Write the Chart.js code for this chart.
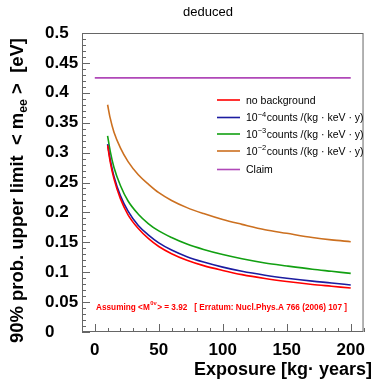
<!DOCTYPE html>
<html><head><meta charset="utf-8">
<script src="https://cdn.jsdelivr.net/npm/chart.js@4.4.0/dist/chart.umd.min.js"></script>
<style>html,body{margin:0;padding:0;background:#fff}#wrap{width:373px;height:380px}</style>
</head><body><div id="wrap"><canvas id="c" width="373" height="380"></canvas></div>
<script>
const exposure = [10,12,15,20,26,34,42,50,60,72,85,100,115,133,150,170,185,200];
const noBackground = [0.312,0.285,0.256,0.223,0.196,0.173,0.156,0.143,0.131,0.120,0.111,0.103,0.096,0.0895,0.0845,0.0795,0.0765,0.0735];
const bkg1e4 = [0.314,0.289,0.260,0.228,0.202,0.178,0.162,0.149,0.137,0.126,0.117,0.1085,0.1015,0.0950,0.0900,0.0850,0.0820,0.0786];
const bkg1e3 = [0.328,0.303,0.275,0.245,0.219,0.197,0.181,0.169,0.158,0.147,0.138,0.1295,0.1225,0.1155,0.1105,0.1050,0.1015,0.0980];
const bkg1e2 = [0.380,0.358,0.334,0.308,0.285,0.263,0.247,0.233,0.220,0.208,0.198,0.188,0.180,0.171,0.165,0.158,0.154,0.151];
const claimX = [0,200];
const claimY = [0.425,0.425];
const xTicks = [0,50,100,150,200];
const seriesNames = ['no background','10^{−4}counts /(kg · keV · y)','10^{−3}counts /(kg · keV · y)','10^{−2}counts /(kg · keV · y)','Claim'];
const colors = ['#ff0000','#1c1ca0','#12a012','#cc7020','#b048b8'];
const xTitle = 'Exposure [kg· years]';

const pts = (xs, ys) => xs.map((x,i)=>({x, y: ys[i]}));
const FONT = "'Liberation Sans', Arial, sans-serif";

const rootPlugin = {
  id: 'root',
  afterDraw(chart) {
    const ctx = chart.ctx;
    const {left, right, top, bottom} = chart.chartArea;
    const xs = chart.scales.x, ys = chart.scales.y;
    ctx.save();
    ctx.strokeStyle = '#666';
    ctx.lineWidth = 1;
    ctx.strokeRect(left + 0.5, top + 0.5, right - left - 1, bottom - top - 1);
    ctx.beginPath();
    for (let i = 0; i <= 50; i++) {
      const v = i * 0.01;
      const y = Math.round(ys.getPixelForValue(v)) + 0.5;
      const len = (i % 5 === 0) ? 8 : 4;
      ctx.moveTo(left, y); ctx.lineTo(left + len, y);
    }
    for (let v = -10; v <= 210; v += 10) {
      const x = Math.round(xs.getPixelForValue(v)) + 0.5;
      const len = (v % 50 === 0) ? 8 : 4;
      ctx.moveTo(x, bottom); ctx.lineTo(x, bottom - len);
    }
    ctx.stroke();

    // legend
    const lx0 = 217, lx1 = 240, tx = 246;
    const rows = [100, 117.5, 134, 151, 169.5];
    ctx.textBaseline = 'middle';
    seriesNames.forEach((name, i) => {
      ctx.strokeStyle = colors[i];
      ctx.lineWidth = 1.6;
      ctx.beginPath(); ctx.moveTo(lx0, rows[i]); ctx.lineTo(lx1, rows[i]); ctx.stroke();
      ctx.fillStyle = '#000';
      ctx.textAlign = 'left';
      const m = name.match(/^(.*?)\^\{(.*?)\}(.*)$/);
      if (m) {
        ctx.font = `10.5px ${FONT}`;
        ctx.fillText(m[1], tx, rows[i] + 1);
        let x = tx + ctx.measureText(m[1]).width;
        ctx.font = `7.5px ${FONT}`;
        ctx.fillText(m[2], x, rows[i] - 3);
        x += ctx.measureText(m[2]).width + 0.5;
        ctx.font = `10.5px ${FONT}`;
        ctx.fillText(m[3], x, rows[i] + 1);
      } else {
        ctx.font = `10.5px ${FONT}`;
        ctx.fillText(name, tx, rows[i] + 1);
      }
    });

    // annotation
    const a1 = 'Assuming <M', aSup = '0ν', a2 = '> = 3.92   [ Erratum: Nucl.Phys.A 766 (2006) 107 ]';
    ctx.font = `bold 8.5px ${FONT}`;
    const w1 = ctx.measureText(a1).width, w2 = ctx.measureText(a2).width;
    ctx.font = `bold 6px ${FONT}`;
    const ws = ctx.measureText(aSup).width;
    const total = w1 + ws + 1 + w2;
    const sc = 251 / total;
    ctx.save();
    ctx.translate(96, 310);
    ctx.scale(sc, 1);
    ctx.fillStyle = '#ff0000';
    ctx.textBaseline = 'alphabetic';
    ctx.font = `bold 8.5px ${FONT}`;
    ctx.fillText(a1, 0, 0);
    ctx.font = `bold 6px ${FONT}`;
    ctx.fillText(aSup, w1 + 0.5, -5);
    ctx.font = `bold 8.5px ${FONT}`;
    ctx.fillText(a2, w1 + ws + 1, 0);
    ctx.restore();

    // x title
    ctx.fillStyle = '#000';
    ctx.font = `bold 18px ${FONT}`;
    ctx.textAlign = 'right';
    ctx.textBaseline = 'alphabetic';
    ctx.fillText(xTitle, 372, 375);

    // y title
    const t1 = '90% prob. upper limit  < m', tSub = 'ee', t2 = ' >  [eV]';
    const fs = 18, fsub = 12;
    ctx.textAlign = 'left';
    ctx.font = `bold ${fs}px ${FONT}`;
    let u1 = ctx.measureText(t1).width, u2 = ctx.measureText(t2).width;
    ctx.font = `bold ${fsub}px ${FONT}`;
    let us = ctx.measureText(tSub).width;
    const tot = u1 + us + u2;
    const scy = 305 / tot;
    ctx.save();
    ctx.translate(23, 38 + 305);
    ctx.rotate(-Math.PI / 2);
    ctx.scale(scy, 1);
    ctx.fillStyle = '#000';
    ctx.textBaseline = 'alphabetic';
    ctx.font = `bold ${fs}px ${FONT}`;
    ctx.fillText(t1, 0, 0);
    ctx.font = `bold ${fsub}px ${FONT}`;
    ctx.fillText(tSub, u1, 4);
    ctx.font = `bold ${fs}px ${FONT}`;
    ctx.fillText(t2, u1 + us, 0);
    ctx.restore();

    ctx.restore();
  }
};

const mk = (label, xs, ys, color) => ({
  label, data: pts(xs, ys), borderColor: color, backgroundColor: color,
  borderWidth: 1.6, pointRadius: 0, showLine: true, fill: false,
  cubicInterpolationMode: 'monotone'
});

new Chart(document.getElementById('c'), {
  type: 'scatter',
  data: {
    datasets: [
      mk(seriesNames[0], exposure, noBackground, colors[0]),
      mk(seriesNames[1], exposure, bkg1e4, colors[1]),
      mk(seriesNames[2], exposure, bkg1e3, colors[2]),
      mk(seriesNames[3], exposure, bkg1e2, colors[3]),
      mk(seriesNames[4], claimX, claimY, colors[4])
    ]
  },
  options: {
    responsive: false,
    animation: false,
    devicePixelRatio: 1,
    layout: { padding: { left: 45, right: 2, top: 0, bottom: 0 } },
    plugins: {
      legend: { display: false },
      tooltip: { enabled: false },
      title: {
        display: true, text: 'deduced', color: '#000',
        font: { family: FONT, size: 13, weight: 'normal' },
        padding: { top: 5, bottom: 12.4 }
      }
    },
    scales: {
      x: {
        type: 'linear', min: -10, max: 210,
        afterBuildTicks: (s) => { s.ticks = xTicks.map(v => ({ value: v })); },
        afterFit: (s) => { s.height = 48; },
        grid: { display: false, drawTicks: false }, border: { display: false },
        ticks: { color: '#000', font: { family: FONT, size: 17, weight: 'bold' }, padding: 8, maxRotation: 0 },
        title: { display: false }
      },
      y: {
        min: 0, max: 0.5,
        afterFit: (s) => { s.width = 37; },
        grid: { display: false, drawTicks: false }, border: { display: false },
        ticks: { stepSize: 0.05, color: '#000', crossAlign: 'far',
                 font: { family: FONT, size: 17, weight: 'bold' },
                 callback: (v) => String(+Number(v).toFixed(2)) }
      }
    }
  },
  plugins: [rootPlugin]
});
</script></body></html>
